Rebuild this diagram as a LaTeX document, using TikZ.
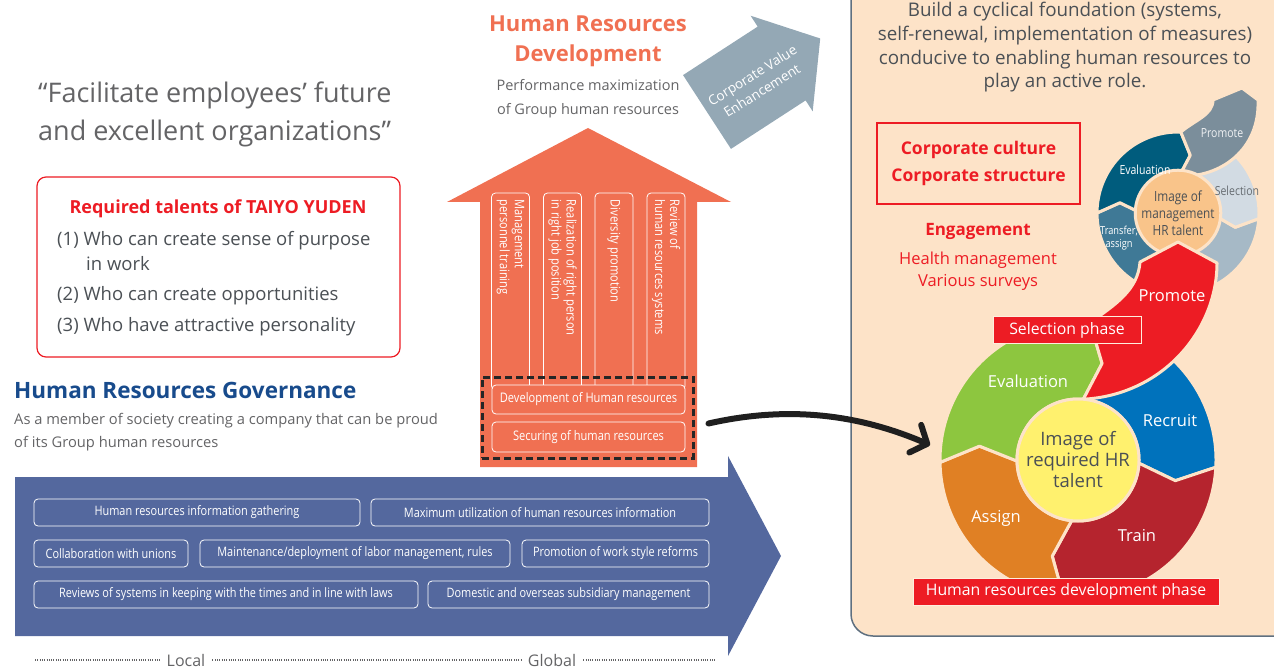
\documentclass[tikz,border=0pt]{standalone}
\usepackage{fontspec}
\setmainfont{Open Sans}
\newfontfamily\narrowfont[FakeStretch=0.84]{Open Sans}
\usepackage{xcolor}
\definecolor{coral}{RGB}{240,112,82}
\definecolor{slate}{RGB}{84,104,158}
\definecolor{cvgray}{RGB}{148,168,181}
\definecolor{peach}{RGB}{253,227,200}
\definecolor{panelline}{RGB}{95,112,128}
\definecolor{hrred}{RGB}{237,28,36}
\definecolor{govblue}{RGB}{24,75,140}
\definecolor{txtgray}{RGB}{100,100,102}
\definecolor{txtdark}{RGB}{75,80,85}
\definecolor{evgreen}{RGB}{141,198,63}
\definecolor{recblue}{RGB}{0,114,188}
\definecolor{trred}{RGB}{181,36,46}
\definecolor{asorange}{RGB}{224,128,36}
\definecolor{coreyellow}{RGB}{255,241,110}
\definecolor{teal}{RGB}{0,92,125}
\definecolor{prgray}{RGB}{123,142,155}
\definecolor{selgray}{RGB}{210,219,227}
\definecolor{steel}{RGB}{166,185,198}
\definecolor{trgray}{RGB}{63,121,150}
\definecolor{smcore}{RGB}{249,196,138}
\newcommand{\fsz}[2]{\fontsize{#1}{#2}\selectfont}
% 环形箭头段: 颜色, 起角, 终角, 内径, 外径, 尖角偏移
\newcommand{\ringseg}[6]{%
  \filldraw[fill=#1, segedge] (#2:#4) -- ({#2+#6}:{(#4+#5)/2}) -- (#2:#5)
    arc[start angle=#2, end angle=#3, radius=#5]
    -- ({#3+#6}:{(#4+#5)/2}) -- (#3:#4)
    arc[start angle=#3, end angle=#2, radius=#4] -- cycle;}
\usepackage{tikz}
\usetikzlibrary{arrows.meta}

\begin{document}
\begin{tikzpicture}[x=1pt, y=-1pt,
    every node/.style={inner sep=0pt},
    txt/.style={text=txtgray},
    item/.style={text=txtdark, anchor=west, font=\fsz{18.5}{20}},
    bandbox/.style={draw=white, rounded corners=4pt, line width=0.8pt, text=white,
                    minimum height=27pt, font=\narrowfont\fsz{13}{14}},
    colbox/.style={draw=white, rounded corners=4pt, line width=0.8pt,
                   minimum width=38pt, minimum height=197pt},
    coltext/.style={rotate=-90, anchor=west, inner xsep=7pt, align=left, text=white,
                    font=\narrowfont\fsz{13.2}{15}},
    basebox/.style={fill=coral, draw=white, rounded corners=4pt, line width=0.8pt,
                    minimum width=193pt, text=white, font=\narrowfont\fsz{13.2}{14}},
    seglbl/.style={text=white, font=\fsz{16.5}{19}},
    smlbl/.style={text=white, align=center, font=\narrowfont\fsz{12.5}{14}},
    phase/.style={fill=hrred, draw=peach!60!white, line width=1pt, text=white,
                  minimum height=27pt, font=\fsz{15.8}{17}},
    segedge/.style={draw=peach, line width=3pt, line join=round},
  ]
    \useasboundingbox (0,0) rectangle (1274,671);

    % 左上
    \node[txt, anchor=west, align=left, font=\fsz{27}{38}] (quote) at (38,114)
      {“Facilitate employees’ future\\and excellent organizations”};
    \node[draw=hrred, line width=1.2pt, rounded corners=9pt,
          minimum width=363pt, minimum height=180pt] (talbox) at (218.5,267) {};
    \node[text=hrred, font=\bfseries\fsz{18}{20}] (taltitle) at (218,209)
      {Required talents of TAIYO YUDEN};
    \node[item] (tal1)  at (57,241) {(1) Who can create sense of purpose};
    \node[item] (tal1b) at (86,264) {in work};
    \node[item] (tal2)  at (57,296) {(2) Who can create opportunities};
    \node[item] (tal3)  at (57,327) {(3) Who have attractive personality};

    \node[text=govblue, anchor=west, font=\bfseries\fsz{22.5}{26}] (gov) at (14,390)
      {Human Resources Governance};
    \node[txt, anchor=west, align=left, font=\fsz{14.7}{23}] (govsub) at (14,432.5)
      {As a member of society creating a company that can be proud\\of its Group human resources};

    % 底部蓝色箭头
    \fill[slate] (15,477) -- (728,477) -- (728,456) -- (781,556) -- (728,656)
      -- (728,636) -- (15,636) -- cycle;
    \node[bandbox, minimum width=326pt] (info)   at (197,512.5)   {Human resources information gathering};
    \node[bandbox, minimum width=338pt] (util)   at (540,512.5)   {Maximum utilization of human resources information};
    \node[bandbox, minimum width=154pt] (union)  at (111,553.5)   {Collaboration with unions};
    \node[bandbox, minimum width=310pt] (labor)  at (355,553.5)   {Maintenance/deployment of labor management, rules};
    \node[bandbox, minimum width=187pt] (reform) at (615.5,553.5) {Promotion of work style reforms};
    \node[bandbox, minimum width=384pt] (laws)   at (226,594.5)   {Reviews of systems in keeping with the times and in line with laws};
    \node[bandbox, minimum width=281pt] (subs)   at (568.5,594.5) {Domestic and overseas subsidiary management};

    \coordinate (dotl) at (35,660);
    \coordinate (dotr) at (716,660);
    \node[txt, inner xsep=7pt, font=\fsz{16}{18}] (local)  at (186,660) {Local};
    \node[txt, inner xsep=7pt, font=\fsz{16}{18}] (global) at (552,660) {Global};
    \draw[txtgray, line width=1.2pt, dash pattern=on 1pt off 1.3pt] (dotl) -- (local);
    \draw[txtgray, line width=1.2pt, dash pattern=on 1pt off 1.3pt] (local) -- (global);
    \draw[txtgray, line width=1.2pt, dash pattern=on 1pt off 1.3pt] (global) -- (dotr);

    % 中间橙色箭头
    \fill[coral] (480,467) -- (480,202) -- (447,202) -- (588,128) -- (731,202)
      -- (697,202) -- (697,467) -- cycle;
    \node[colbox] (c1) at (510.5,291.5) {};
    \node[colbox] (c2) at (562.5,291.5) {};
    \node[colbox] (c3) at (614,291.5) {};
    \node[colbox] (c4) at (666,291.5) {};
    \node[coltext] (c1t) at (c1.north) {Management\\personnel training};
    \node[coltext] (c2t) at (c2.north) {Realization of right person\\in right job position};
    \node[coltext] (c3t) at (c3.north) {Diversity promotion};
    \node[coltext] (c4t) at (c4.north) {Review of\\human resources systems};
    \node[basebox, minimum height=29pt] (dev) at (588.5,399.5) {Development of Human resources};
    \node[basebox, minimum height=30pt] (sec) at (588.5,437) {Securing of human resources};
    \node[draw=black!85, line width=3pt, dash pattern=on 7pt off 4pt,
          minimum width=211pt, minimum height=81pt] (base) at (587.5,417.5) {};

    \node[text=coral, align=center, font=\bfseries\fsz{22}{30}] (hrd) at (588,41)
      {Human Resources\\Development};
    \node[txt, align=center, font=\fsz{14.5}{24}] (hrdsub) at (588,99)
      {Performance maximization\\of Group human resources};

    % 灰色箭头
    \begin{scope}[shift={(707,112)}, rotate=33]
      \fill[cvgray] (0,-44) -- (89,-44) -- (89,-57) -- (135,0) -- (89,57) -- (89,44)
        -- (0,44) -- cycle;
    \end{scope}
    \node[rotate=32, text=white, align=center, font=\fsz{13.5}{18}] (cve) at (757,83)
      {Corporate Value\\Enhancement};

    % 右侧面板
    \filldraw[fill=peach, draw=panelline, line width=1.5pt, rounded corners=22pt]
      (851,-30) rectangle (1310,636);
    \node[text=txtdark, align=center, font=\fsz{18.8}{23.7}] (found) at (1065,47.5)
      {Build a cyclical foundation (systems,\\self-renewal, implementation of measures)\\conducive to enabling human resources to\\play an active role.};
    \node[draw=hrred, line width=1.5pt, minimum width=203pt, minimum height=81pt,
          text=hrred, align=center, font=\bfseries\fsz{17.5}{27}] (culture) at (978.5,163.5)
      {Corporate culture\\Corporate structure};
    \node[text=hrred, font=\bfseries\fsz{17}{20}] (engage) at (978,231) {Engagement};
    \node[text=hrred, align=center, font=\fsz{16.5}{22}] (health) at (978,271)
      {Health management\\Various surveys};

    % 小循环
    \begin{scope}[shift={(1178,213)}]
      \ringseg{trgray}{100}{180}{37}{81}{10}
      \ringseg{steel}{4}{100}{37}{81}{10}
      \ringseg{selgray}{-88}{4}{37}{81}{10}
      \ringseg{teal}{180}{272}{37}{81}{10}
      \filldraw[fill=prgray, segedge] (-88:37) -- (-78:59) -- (-88:81)
        .. controls (17,-93) and (35,-98) .. (35,-113) -- (64,-125) -- (80,-113)
        .. controls (82,-63) and (42,-35) .. (-88:37) -- cycle;
    \end{scope}
    \node[circle, fill=smcore, segedge, minimum size=70pt, align=center, text=txtdark,
          font=\narrowfont\fsz{14}{17}] (smcore) at (1178,213)
      {Image of\\management\\HR talent};
    \node[smlbl, text=white!88!prgray] (smprom) at (1222,133) {Promote};
    \node[smlbl] (smeval) at (1145,170) {Evaluation};
    \node[smlbl, text=txtdark!80!selgray] (smsel) at (1237,191) {Selection};
    \node[smlbl, font=\narrowfont\fsz{11}{13.5}] (smtrans) at (1119,238) {Transfer,\\assign};

    % 大循环
    \begin{scope}[shift={(1078,460)}]
      \ringseg{recblue}{-85}{3}{61}{138}{9}
      \ringseg{trred}{3}{96}{61}{138}{9}
      \ringseg{asorange}{96}{179}{61}{138}{9}
      \ringseg{evgreen}{179}{275}{61}{138}{9}
      \filldraw[fill=hrred, segedge] (-85:61) -- (-76:99.5) -- (-85:138)
        .. controls (37,-155) and (60,-170) .. (62,-198) -- (100,-218) -- (139,-197)
        .. controls (139,-130) and (85,-65) .. (-85:61) -- cycle;
    \end{scope}
    \node[circle, fill=coreyellow, segedge, minimum size=122pt, align=center, text=txtdark,
          font=\fsz{18.5}{21}] (core) at (1078,460) {Image of\\required HR\\talent};
    \node[seglbl] (promote) at (1172,296) {Promote};
    \node[seglbl] (eval)    at (1028,381) {Evaluation};
    \node[seglbl] (recruit) at (1170,421) {Recruit};
    \node[seglbl] (train)   at (1137,536) {Train};
    \node[seglbl] (assign)  at (996,518)  {Assign};
    \node[phase, minimum width=148pt] (selph) at (1067,330)   {Selection phase};
    \node[phase, minimum width=306pt] (devph) at (1066,591.5) {Human resources development phase};

    % 黑色箭头
    \coordinate (tgt) at (930,445);
    \draw[black!88, line width=6pt, line cap=round,
          -{Straight Barb[round, length=13pt, width=30pt]}]
      ([xshift=14pt, yshift=-6pt]base.east) .. controls (790,405) and (860,415) .. (tgt);
\end{tikzpicture}
\end{document}
